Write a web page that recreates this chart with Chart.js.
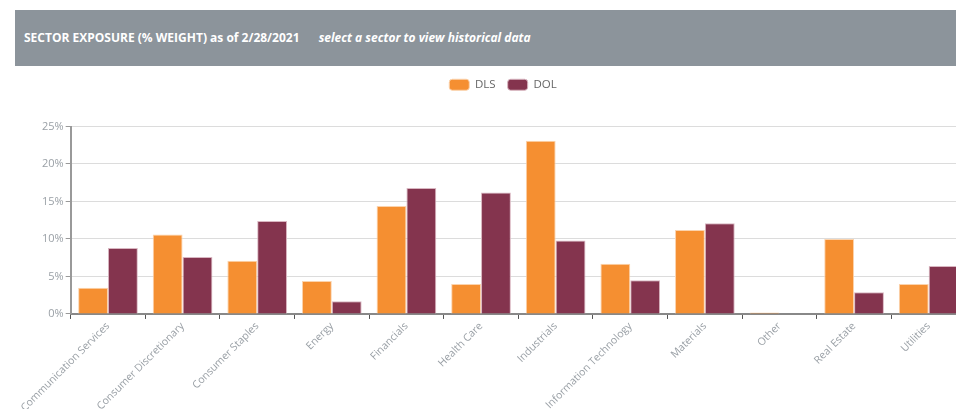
<!DOCTYPE html>
<html>
<head>
<meta charset="utf-8">
<script src="https://cdn.jsdelivr.net/npm/chart.js@4.4.1/dist/chart.umd.min.js"></script>
<style>
	html, body { margin: 0; padding: 0; background: #fff; overflow: hidden; width: 956px; height: 409px; }
	.panel-head {
		position: absolute; left: 15px; top: 10px; width: 960px; height: 56px;
		background: #8c949b; color: #fff;
		font-family: "Open Sans", sans-serif; font-size: 12px; font-weight: bold;
		line-height: 56px; padding-left: 9px; box-sizing: border-box; white-space: nowrap;
	}
	.panel-head em { margin-left: 16px; }
	.chart-box { position: absolute; left: 15px; top: 66px; width: 982px; height: 349px; }
</style>
</head>
<body>
<div class="panel-head">SECTOR EXPOSURE (% WEIGHT) as of 2/28/2021 <em>select a sector to view historical data</em></div>
<div class="chart-box"><canvas id="sectorChart"></canvas></div>
<script>
'use strict';

var sectors = ["Communication Services", "Consumer Discretionary", "Consumer Staples", "Energy", "Financials",
	"Health Care", "Industrials", "Information Technology", "Materials", "Other", "Real Estate", "Utilities"];
var dlsWeights = [ 3.5, 10.6, 7.1, 4.4, 14.4, 4.0, 23.1, 6.7, 11.2, 0.2, 10.0, 4.0 ];
var dolWeights = [ 8.8, 7.6, 12.4, 1.7, 16.8, 16.2, 9.8, 4.5, 12.1, 0, 2.9, 6.4 ];
var yTicks = [ 0, 5, 10, 15, 20, 25 ];

Chart.defaults.font.family = '"Open Sans", sans-serif';

/* extra room under the legend */
var legendGap = {
	id: 'legendGap',
	beforeInit: function (chart) {
		var fitValue = chart.legend.fit;
		chart.legend.fit = function fit() {
			fitValue.bind(chart.legend)();
			this.height += 26;
		};
	}
};

/* sector chart */
var ctx = document.getElementById('sectorChart').getContext('2d');
var chart = new Chart(ctx, {
	type: 'bar',
	data: {
		labels: sectors,
		datasets: [{
			label: "DLS",
			backgroundColor: '#f58f31',
			borderColor: '#fbd3ad',
			borderWidth: 1,
			data: dlsWeights,
		},
		{
			label: "DOL",
			backgroundColor: '#84344e',
			borderColor: '#d9b6c1',
			borderWidth: 1,
			data: dolWeights,
		}]
	},
	plugins: [legendGap],
	options: {
		responsive: true,
		maintainAspectRatio: false,
		animation: false,
		layout: { padding: { left: 25, right: 31, top: 1, bottom: 0 } },
		datasets: { bar: { categoryPercentage: 0.8, barPercentage: 1.0 } },
		plugins: {
			legend: {
				labels: { boxWidth: 20, boxHeight: 11, color: '#666', font: { size: 11.5 }, padding: 12,
					useBorderRadius: true, borderRadius: 3 }
			},
			tooltip: { enabled: false }
		},
		scales: {
			x: {
				grid: { display: true, drawOnChartArea: false, drawTicks: true, tickLength: 5, color: '#555', offset: true },
				border: { display: true, color: '#888', width: 2 },
				ticks: { color: '#9aa0a6', font: { size: 10.5 }, minRotation: 45, maxRotation: 45, padding: 1 }
			},
			y: {
				min: 0,
				max: 25,
				afterBuildTicks: function (axis) {
					axis.ticks = yTicks.map(function (v) { return { value: v }; });
				},
				grid: { color: '#dcdcdc', lineWidth: 1, tickLength: 5, tickColor: '#999' },
				border: { display: true, color: '#999', width: 2 },
				ticks: { color: '#9aa0a6', font: { size: 11 }, padding: 2,
					callback: function (v) { return v + '%'; } }
			}
		}
	}
});
</script>
</body>
</html>
